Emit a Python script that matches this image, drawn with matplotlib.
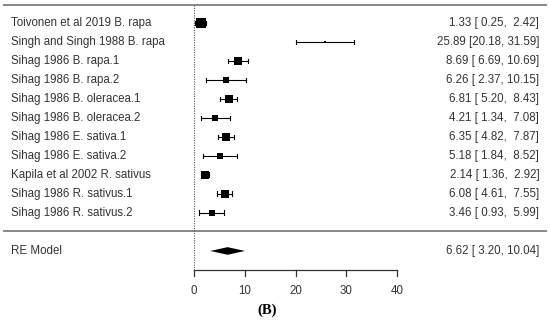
import matplotlib.pyplot as plt
import numpy as np

plt.rcParams['font.family'] = ['Liberation Sans', 'DejaVu Sans']

# study data
studies = ['Toivonen et al 2019 B. rapa', 'Singh and Singh 1988 B. rapa',
           'Sihag 1986 B. rapa.1', 'Sihag 1986 B. rapa.2',
           'Sihag 1986 B. oleracea.1', 'Sihag 1986 B. oleracea.2',
           'Sihag 1986 E. sativa.1', 'Sihag 1986 E. sativa.2',
           'Kapila et al 2002 R. sativus', 'Sihag 1986 R. sativus.1',
           'Sihag 1986 R. sativus.2']
est = [1.33, 25.89, 8.69, 6.26, 6.81, 4.21, 6.35, 5.18, 2.14, 6.08, 3.46]
lo = [0.25, 20.18, 6.69, 2.37, 5.20, 1.34, 4.82, 1.84, 1.36, 4.61, 0.93]
hi = [2.42, 31.59, 10.69, 10.15, 8.43, 7.08, 7.87, 8.52, 2.92, 7.55, 5.99]
weights = [12.5, 3.0, 10.5, 7.5, 10.5, 8.5, 10.5, 7.5, 11.5, 10.5, 8.5]

re_est, re_lo, re_hi = 6.62, 3.20, 10.04
xticks = [0, 10, 20, 30, 40]

fig = plt.figure(figsize=(5.5, 3.26), dpi=100)
ax = fig.add_axes([0, 0, 1, 1])
ax.set_xlim(-38.2, 70.1)
ax.set_ylim(15.95, -1.21)
ax.axis('off')

txt = '#333333'
fs = 8.3

# header / separator lines
ax.plot([-37.4, 69.3], [-0.95, -0.95], color='#888888', lw=1.4)
ax.plot([-37.4, 69.3], [10.95, 10.95], color='#888888', lw=1.4)

# reference line at 0
ax.plot([0, 0], [-0.95, 13], color='#555555', lw=0.8, ls=(0, (1, 1.2)))

for i in range(len(studies)):
    ax.plot([lo[i], hi[i]], [i, i], color='black', lw=0.8)
    for e in (lo[i], hi[i]):
        ax.plot([e, e], [i - 0.13, i + 0.13], color='black', lw=0.8)
    ax.plot(est[i], i, marker='s', color='black', ms=weights[i] * 0.55, mew=0)
    ax.text(-36.0, i, studies[i], ha='left', va='center', fontsize=fs, color=txt)
    ax.text(68.0, i, '%.2f [%5.2f, %5.2f]' % (est[i], lo[i], hi[i]),
            ha='right', va='center', fontsize=fs, color=txt)

# summary
ax.fill([re_lo, re_est, re_hi, re_est], [12, 12 - 0.2, 12, 12 + 0.2],
        color='black', lw=0)
ax.text(-36.0, 12, 'RE Model', ha='left', va='center', fontsize=fs, color=txt)
ax.text(68.0, 12, '%.2f [%5.2f, %5.2f]' % (re_est, re_lo, re_hi),
        ha='right', va='center', fontsize=fs, color=txt)

# x axis
ax.plot([xticks[0], xticks[-1]], [13, 13], color='#333333', lw=0.9)
for t in xticks:
    ax.plot([t, t], [13, 13.32], color='#333333', lw=0.9)
    ax.text(t, 14.1, str(t), ha='center', va='center', fontsize=fs, color=txt)

ax.text(14.4, 15.1, '(B)', ha='center', va='center', fontsize=10.5,
        fontweight='bold', family='Liberation Serif', color='black')

fig.savefig('out.png', dpi=100)
